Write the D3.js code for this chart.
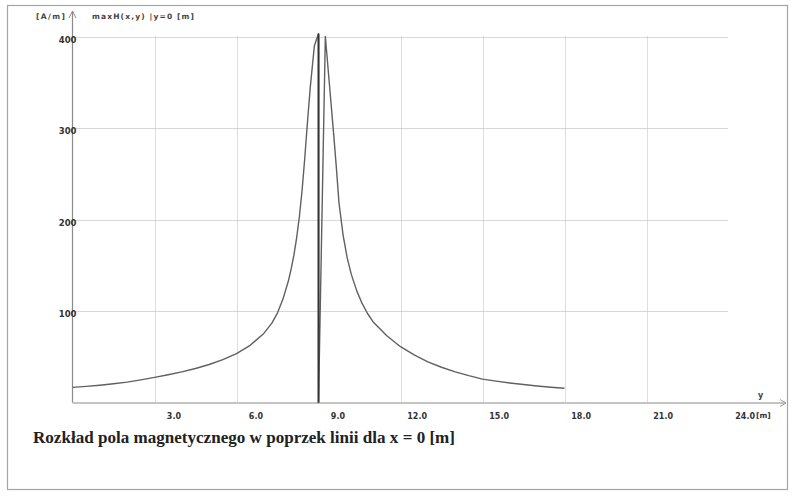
<!DOCTYPE html>
<html>
<head>
<meta charset="utf-8">
<script src="https://cdn.jsdelivr.net/npm/d3@7/dist/d3.min.js"></script>
<style>
html,body{margin:0;padding:0;background:#fff;}
svg{display:block;}
</style>
</head>
<body>
<svg id="chart" width="792" height="496"></svg>
<script>
// --- data ---
const positions = [0.0, 0.5, 1.0, 1.5, 2.0, 2.5, 3.0, 3.5, 4.0, 4.5, 5.0, 5.5, 6.0, 6.5, 7.0, 7.3, 7.5, 7.7, 7.9, 8.0,
                   8.1, 8.2, 8.3, 8.4, 8.5, 8.6, 8.7, 8.8, 8.85,
                   9.0, 9.0,
                   9.25, 9.35, 9.45, 9.55, 9.65, 9.75, 9.9, 10.05, 10.2, 10.4, 10.6, 10.8, 11.0, 11.5, 12.0,
                   12.5, 13.0, 13.5, 14.0, 14.5, 15.0, 15.5, 16.0, 16.5, 17.0, 17.5, 18.0];
const fieldValues = [16.5, 17.6, 18.9, 20.5, 22.3, 24.7, 27.4, 30.3, 33.5, 37.2, 41.5, 46.8, 53.5, 62.5, 75.5, 87, 98, 113, 133, 146,
                     161, 180, 203, 232, 268, 308, 345, 375, 390,
                     403, 0,
                     400, 365, 330, 295, 258, 218, 183, 158, 140, 122, 108, 97, 88, 73, 61,
                     52, 44.5, 38.5, 33.5, 29.3, 25.5, 23.3, 21.3, 19.6, 18.1, 16.7, 15.5];
const xTicks = [3, 6, 9, 12, 15, 18, 21, 24];
const yTicks = [100, 200, 300, 400];
const yUnit = "[A/m]";
const seriesLabel = "maxH(x,y) |y=0 [m]";
const xAxisLabel = "y";
const xUnit = "[m]";
const caption = "Rozkład pola magnetycznego w poprzek linii dla x = 0 [m]";

const svg = d3.select("#chart");
const x = d3.scaleLinear().domain([0, 24]).range([72.5, 728.5]);
const y = d3.scaleLinear().domain([0, 400]).range([402.5, 36.5]);

// outer frame
svg.append("rect").attr("x", 7.5).attr("y", 5.5).attr("width", 780).attr("height", 484)
  .attr("fill", "none").attr("stroke", "#a5a5a5").attr("stroke-width", 1.2);

// grid
const grid = svg.append("g");
grid.selectAll("line.h").data(yTicks).join("line")
  .attr("x1", x(0)).attr("x2", x(24))
  .attr("y1", d => Math.round(y(d)) + 0.5).attr("y2", d => Math.round(y(d)) + 0.5)
  .attr("stroke", "#b0b0b0").attr("stroke-dasharray", "1,1");
grid.selectAll("line.v").data(xTicks.filter(t => t < 24)).join("line")
  .attr("y1", y(400)).attr("y2", y(0))
  .attr("x1", d => Math.round(x(d)) + 0.5).attr("x2", d => Math.round(x(d)) + 0.5)
  .attr("stroke", "#bdbdbd").attr("stroke-dasharray", "1,1");

// x axis (line with arrow)
svg.append("line").attr("x1", x(0)).attr("x2", 785).attr("y1", y(0) + 0.5).attr("y2", y(0) + 0.5)
  .attr("stroke", "#8a8a8a").attr("stroke-width", 1.2);
svg.append("path").attr("d", `M780,${y(0)-3} L786,${y(0)+0.5} L780,${y(0)+4}`)
  .attr("fill", "none").attr("stroke", "#999");

// y axis with arrow
svg.append("line").attr("x1", x(0)).attr("x2", x(0)).attr("y1", y(0)).attr("y2", 12)
  .attr("stroke", "#8a8a8a").attr("stroke-width", 1.2);
svg.append("path").attr("d", `M${x(0)-3.5},18 L${x(0)},11 L${x(0)+3.5},18`)
  .attr("fill", "none").attr("stroke", "#8a8a8a");

// tick labels via d3 axes
const xAxis = d3.axisBottom(x).tickValues(xTicks).tickSize(0).tickFormat(d3.format(".1f"));
const gx = svg.append("g").attr("transform", `translate(0,${y(0)})`).call(xAxis);
gx.select(".domain").remove();
gx.selectAll("text").attr("text-anchor", "end").attr("dx", 26).attr("dy", 0).attr("y", 16)
  .attr("font-family", "DejaVu Sans").attr("font-weight", "bold").attr("font-size", 8).attr("fill", "#333");

const yAxis = d3.axisLeft(y).tickValues(yTicks).tickSize(0).tickFormat(d3.format("d"));
const gy = svg.append("g").attr("transform", `translate(${x(0) + 4},0)`).call(yAxis);
gy.select(".domain").remove();
gy.selectAll("text").attr("x", 0).attr("dy", "0.7em").attr("text-anchor", "end")
  .attr("font-family", "DejaVu Sans").attr("font-weight", "bold").attr("font-size", 8.5).attr("fill", "#333");

// header texts
svg.append("text").attr("x", 36).attr("y", 19).text(yUnit)
  .attr("font-family", "DejaVu Sans").attr("font-weight", "bold").attr("font-size", 7.5).attr("fill", "#444")
  .attr("textLength", 29).attr("lengthAdjust", "spacing");
svg.append("text").attr("x", 92).attr("y", 19).text(seriesLabel)
  .attr("font-family", "DejaVu Sans").attr("font-weight", "bold").attr("font-size", 7.5).attr("fill", "#444")
  .attr("textLength", 102).attr("lengthAdjust", "spacing");
svg.append("text").attr("x", 758).attr("y", 398).text(xAxisLabel)
  .attr("font-family", "DejaVu Sans").attr("font-weight", "bold").attr("font-size", 8).attr("fill", "#444");
svg.append("text").attr("x", 756).attr("y", 418).text(xUnit)
  .attr("font-family", "DejaVu Sans").attr("font-weight", "bold").attr("font-size", 7.5).attr("fill", "#333");

// curve
const pts = positions.map((p, i) => [p, fieldValues[i]]);
svg.append("path").datum(pts)
  .attr("d", d3.line().x(d => x(d[0])).y(d => y(d[1])))
  .attr("fill", "none").attr("stroke", "#606060").attr("stroke-width", 1.4).attr("stroke-linejoin", "round");
// darker vertical segment at the line axis (drawn from the same data pair)
const vert = pts.filter(d => d[0] === 9.0);
svg.append("path").datum(vert)
  .attr("d", d3.line().x(d => x(d[0])).y(d => y(d[1])))
  .attr("fill", "none").attr("stroke", "#333").attr("stroke-width", 1.8);

// caption
svg.append("text").attr("x", 33).attr("y", 443).text(caption)
  .attr("font-family", "Liberation Serif").attr("font-weight", "bold").attr("font-size", 17.5)
  .attr("textLength", 422).attr("lengthAdjust", "spacingAndGlyphs").attr("fill", "#222");
</script>
</body>
</html>
